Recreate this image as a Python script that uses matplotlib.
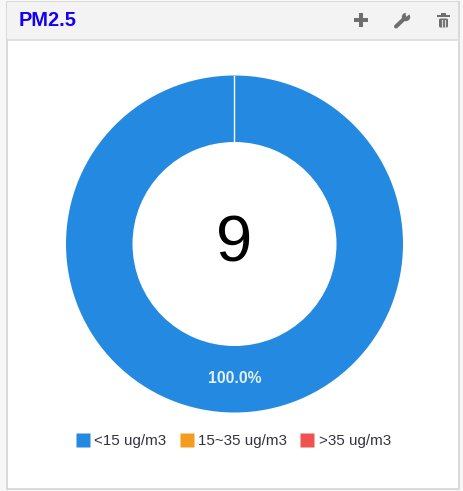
import matplotlib
matplotlib.use("Agg")
import matplotlib.pyplot as plt
from matplotlib.patches import Rectangle, Polygon, Circle, FancyBboxPatch
from matplotlib.lines import Line2D

plt.rcParams['font.family'] = ['Liberation Sans', 'DejaVu Sans']

title = "PM2.5"
categories = ["<15 ug/m3", "15~35 ug/m3", ">35 ug/m3"]
values = [100.0, 0.0, 0.0]
colors = ["#2489E0", "#F39C1F", "#EF5350"]
center_value = "9"
pct_label = "100.0%"

W, H = 463, 491
fig = plt.figure(figsize=(W / 100, H / 100), dpi=100, facecolor="#FFFFFF")

# panel chrome, pixel coordinates
bg = fig.add_axes([0, 0, 1, 1], zorder=0)
bg.set_xlim(0, W); bg.set_ylim(H, 0); bg.axis("off")
bg.add_patch(Rectangle((0, 0), W, H, fc="#F7F7F7", ec="none"))
bg.add_patch(Rectangle((6.5, 1.5), 452, 487.5, fc="#FFFFFF", ec="#D4D4D4", lw=1.2))
bg.add_patch(Rectangle((7, 2), 451, 38, fc="#F3F3F3", ec="none"))
bg.plot([7, 458], [40, 40], color="#DDDDDD", lw=1.2)
bg.text(19, 20.5, title, color="#1400F5", fontsize=14.4, fontweight="bold", va="center", ha="left")

icon = "#6E6E6E"
# plus
bg.add_patch(Rectangle((354, 18), 14, 4.4, fc=icon, ec="none"))
bg.add_patch(Rectangle((358.8, 13.2), 4.4, 14, fc=icon, ec="none"))
# wrench
bg.plot([396, 405], [26.5, 18], color=icon, lw=2.9, solid_capstyle="round")
bg.add_patch(Circle((406, 17), 4.2, fc=icon, ec="none"))
bg.add_patch(Polygon([[406, 17], [405.5, 11.5], [411, 13]], fc="#F3F3F3", ec="none"))
# trash can
bg.add_patch(FancyBboxPatch((439, 18.5), 9, 9, boxstyle="round,pad=0,rounding_size=1.5", fc=icon, ec="none"))
bg.add_patch(Rectangle((437, 15.2), 13, 2, fc=icon, ec="none"))
bg.add_patch(Rectangle((441, 13.4), 5, 2, fc=icon, ec="none"))
for xs in (441.8, 445.2):
    bg.plot([xs, xs], [20, 26.5], color="#D8D8D8", lw=0.9)

# doughnut
cx, cy, R, r = 234.5, 244, 168.5, 102
ax = fig.add_axes([(cx - R) / W, 1 - (cy + R) / H, 2 * R / W, 2 * R / H], zorder=1)
ax.pie(values, colors=colors, startangle=90, counterclock=False, radius=1,
       wedgeprops=dict(width=1 - r / R, edgecolor="none"))
ax.set_xlim(-1, 1); ax.set_ylim(-1, 1); ax.set_aspect("equal")
ax.plot([0, 0], [r / R, 1], color="#FFFFFF", lw=1.0, zorder=5)
ax.text(0, 0.0, center_value, fontsize=47, color="#000000", ha="center", va="center")
ax.text(0, -(R - 34) / R, pct_label, fontsize=11.3, color="#E6F1FB",
        fontweight="bold", ha="center", va="center")

handles = [Line2D([], [], marker="s", ls="none", mfc=c, mec="none", ms=9.5) for c in colors]
leg = fig.legend(handles, categories, loc="center", bbox_to_anchor=(231 / W, 1 - 441 / H),
                 ncol=3, frameon=False, fontsize=10.9, labelcolor="#33333F",
                 handletextpad=0.0, columnspacing=0.6, handlelength=1.5, borderpad=0)

fig.savefig("out.png", dpi=100, facecolor=fig.get_facecolor())
